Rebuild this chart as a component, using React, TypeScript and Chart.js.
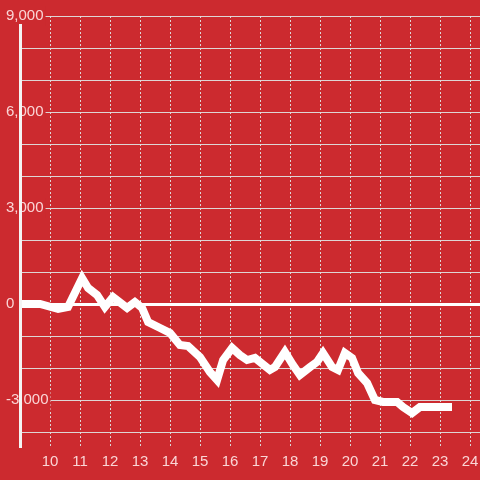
import React, { useEffect, useRef } from 'react';
import { Chart, registerables } from 'chart.js';

Chart.register(...registerables);

// Hours of the day (x) and running value (y)
const hours = [
  9.0, 9.67, 10.27, 10.6, 11.07, 11.27, 11.57, 11.83, 12.1, 12.57, 12.83, 13.07,
  13.27, 13.67, 14.0, 14.33, 14.6, 15.0, 15.33, 15.57, 15.77, 16.07, 16.33, 16.57,
  16.83, 17.33, 17.5, 17.83, 18.1, 18.33, 18.67, 18.9, 19.1, 19.4, 19.6, 19.83,
  20.07, 20.27, 20.57, 20.83, 21.1, 21.57, 21.77, 22.07, 22.33, 22.77, 23.4,
];
const values = [
  0, 0, -156, -94, 812, 500, 281, -94, 219, -125, 62, -125,
  -562, -750, -906, -1281, -1312, -1656, -2125, -2375, -1750, -1375, -1594, -1750,
  -1687, -2062, -1969, -1500, -1906, -2219, -1969, -1812, -1531, -1969, -2062, -1531,
  -1687, -2156, -2469, -3000, -3062, -3062, -3219, -3406, -3219, -3219, -3219,
];
const xTicks = [9, 10, 11, 12, 13, 14, 15, 16, 17, 18, 19, 20, 21, 22, 23, 24];
const xTickLabels = ['', '10', '11', '12', '13', '14', '15', '16', '17', '18', '19', '20', '21', '22', '23', '24'];
const yTicks = [-4000, -3000, -2000, -1000, 0, 1000, 2000, 3000, 4000, 5000, 6000, 7000, 8000, 9000];
const yTickLabels = ['', '-3,000', '', '', '0', '', '', '3,000', '', '', '6,000', '', '', '9,000'];
const xRange = [9, 24 + 1 / 3];
const yRange = [-4500, 9000];
const axisTopValue = 8750;

const BG = '#cc2a2f';
const GRID = 'rgba(222,222,222,0.95)';
const TEXT = 'rgba(255,232,232,0.9)';
const FONT = { family: '"Liberation Sans", Arial, sans-serif', size: 15 };

const axisLinePlugin = {
  id: 'axisLine',
  afterDatasetsDraw(chart: any) {
    const { ctx, chartArea, scales } = chart;
    const y = scales.y;
    ctx.save();
    ctx.strokeStyle = '#f4f4f4';
    ctx.lineWidth = 3;
    ctx.beginPath();
    ctx.moveTo(chartArea.left + 0.5, y.getPixelForValue(axisTopValue));
    ctx.lineTo(chartArea.left + 0.5, chartArea.bottom);
    ctx.stroke();
    ctx.restore();
  },
};

const yLabelAt = (idx: number) => yTickLabels[idx] || '';

const noPadding = (axis: any) => {
  axis.paddingLeft = 0;
  axis.paddingRight = 0;
  axis.paddingTop = 0;
  axis.paddingBottom = 0;
};

export default function App() {
  const ref = useRef<HTMLCanvasElement>(null);
  useEffect(() => {
    if (!ref.current) return;
    const chart = new Chart(ref.current, {
      type: 'line',
      data: {
        datasets: [
          {
            data: hours.map((h, i) => ({ x: h, y: values[i] })),
            borderColor: '#ffffff',
            borderWidth: 8,
            pointRadius: 0,
            tension: 0,
            borderJoinStyle: 'miter',
            borderCapStyle: 'butt',
            fill: false,
          },
        ],
      },
      options: {
        responsive: false,
        animation: false,
        layout: { padding: { top: 16, left: 0, right: 0, bottom: 0 } },
        plugins: { legend: { display: false }, tooltip: { enabled: false } },
        scales: {
          x: {
            type: 'linear',
            min: xRange[0],
            max: xRange[1],
            afterFit: (axis: any) => {
              axis.height = 32;
              noPadding(axis);
            },
            afterBuildTicks: (axis: any) => {
              axis.ticks = xTicks.map((v) => ({ value: v }));
            },
            ticks: {
              padding: 5,
              color: TEXT,
              font: FONT,
              maxRotation: 0,
              autoSkip: false,
              callback: (_v: any, i: number) => xTickLabels[i] || '',
            },
            grid: {
              color: GRID,
              lineWidth: 1,
              drawTicks: false,
            },
            border: { display: false, dash: [2, 2] },
          },
          y: {
            type: 'linear',
            position: 'left',
            min: yRange[0],
            max: yRange[1],
            afterFit: (axis: any) => {
              axis.width = 20;
              noPadding(axis);
            },
            afterBuildTicks: (axis: any) => {
              axis.ticks = yTicks.map((v) => ({ value: v }));
            },
            ticks: {
              mirror: true,
              padding: -14,
              color: TEXT,
              font: FONT,
              autoSkip: false,
              showLabelBackdrop: (ctx: any) => yLabelAt(ctx.index) !== '',
              backdropColor: BG,
              backdropPadding: { top: 1, bottom: 1, left: 2, right: 2 },
              callback: (_v: any, i: number) => yLabelAt(i),
            },
            grid: {
              color: (ctx: any) => (ctx.tick && ctx.tick.value === 0 ? '#ffffff' : GRID),
              lineWidth: (ctx: any) => (ctx.tick && ctx.tick.value === 0 ? 3 : 1),
              drawTicks: false,
            },
            border: { display: false },
          },
        },
      },
      plugins: [axisLinePlugin],
    } as any);
    return () => chart.destroy();
  }, []);

  return (
    <div
      style={{
        position: 'fixed',
        left: 0,
        top: 0,
        width: 480,
        height: 480,
        background: BG,
      }}
    >
      <canvas ref={ref} width={480} height={480} style={{ display: 'block' }} />
    </div>
  );
}
